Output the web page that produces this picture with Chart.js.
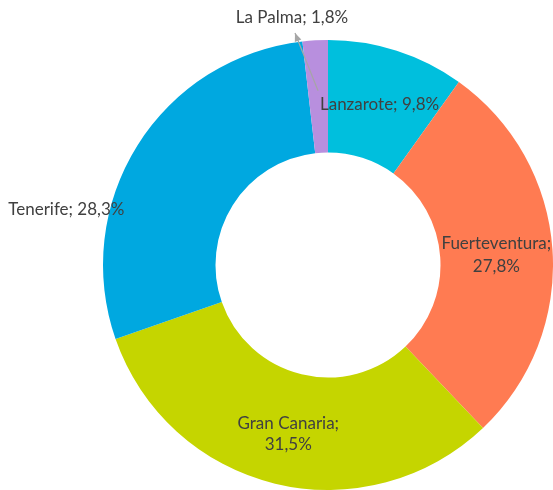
<!DOCTYPE html>
<html>
<head>
<meta charset="utf-8">
<script src="https://cdn.jsdelivr.net/npm/chart.js@4.4.1/dist/chart.umd.min.js"></script>
<style>
  html, body { margin: 0; padding: 0; background: #fff; }
  #wrap { width: 553px; height: 490px; }
</style>
</head>
<body>
<div id="wrap"><canvas id="pie"></canvas></div>
<script>
// data
const islands = ["Lanzarote", "Fuerteventura", "Gran Canaria", "Tenerife", "La Palma"];
const shares = [9.8, 27.8, 31.5, 28.3, 1.8];
const sliceColors = ["#00BFDD", "#FF7B52", "#C5D500", "#00A8E0", "#B88FDE"];

// label text, lines per label
const labelLines = [
  ["Lanzarote; 9,8%"],
  ["Fuerteventura;", "27,8%"],
  ["Gran Canaria;", "31,5%"],
  ["Tenerife; 28,3%"],
  ["La Palma; 1,8%"]
];

const FONT = '17px Lato, "Liberation Sans", sans-serif';

const labelPlugin = {
  id: 'sliceLabels',
  afterDatasetsDraw(chart) {
    const ctx = chart.ctx;
    const arcs = chart.getDatasetMeta(0).data;
    ctx.save();
    ctx.font = FONT;
    ctx.fillStyle = '#404040';
    ctx.textBaseline = 'middle';
    arcs.forEach((arc, i) => {
      const p = arc.getProps(['x', 'y', 'startAngle', 'endAngle', 'innerRadius', 'outerRadius'], true);
      const mid = (p.startAngle + p.endAngle) / 2;
      const at = r => ({ x: p.x + Math.cos(mid) * r, y: p.y + Math.sin(mid) * r });
      const lines = labelLines[i];
      let cx, cy, align = 'center', lh = 22;
      if (i === 3) {
        // Tenerife: outside, left of ring
        const o = at(p.outerRadius);
        cx = o.x - 13; cy = o.y + 64; align = 'right';
      } else if (i === 4) {
        // La Palma: above ring, with leader arrow
        const s = at(p.innerRadius + 62);
        const e = { x: p.x - 33, y: p.y - p.outerRadius - 7 };
        ctx.strokeStyle = '#A6A6A6';
        ctx.fillStyle = '#A6A6A6';
        ctx.lineWidth = 1.2;
        ctx.beginPath();
        ctx.moveTo(s.x, s.y);
        ctx.lineTo(e.x, e.y);
        ctx.stroke();
        const a = Math.atan2(e.y - s.y, e.x - s.x);
        ctx.beginPath();
        ctx.moveTo(e.x, e.y);
        ctx.lineTo(e.x - 9 * Math.cos(a - 0.4), e.y - 9 * Math.sin(a - 0.4));
        ctx.lineTo(e.x - 9 * Math.cos(a + 0.4), e.y - 9 * Math.sin(a + 0.4));
        ctx.closePath();
        ctx.fill();
        ctx.fillStyle = '#404040';
        cx = p.x - 36; cy = p.y - p.outerRadius - 22;
      } else {
        const m = at((p.innerRadius + p.outerRadius) / 2);
        cx = m.x; cy = m.y;
        if (i === 0) { cx += 0; }
        if (i === 1) { cx += 0; cy += 2; lh = 23; }
        if (i === 2) { cx += 0; cy += 5; lh = 21; }
      }
      ctx.textAlign = align;
      lines.forEach((t, k) => {
        ctx.fillText(t, cx, cy + (k - (lines.length - 1) / 2) * lh);
      });
    });
    ctx.restore();
  }
};

new Chart(document.getElementById('pie').getContext('2d'), {
  type: 'doughnut',
  data: {
    labels: islands,
    datasets: [{
      data: shares,
      backgroundColor: sliceColors,
      borderWidth: 0
    }]
  },
  options: {
    responsive: true,
    maintainAspectRatio: false,
    animation: false,
    cutout: '50%',
    layout: { padding: { left: 103, top: 40, right: 0, bottom: 0 } },
    plugins: { legend: { display: false }, tooltip: { enabled: false } }
  },
  plugins: [labelPlugin]
});
</script>
</body>
</html>
